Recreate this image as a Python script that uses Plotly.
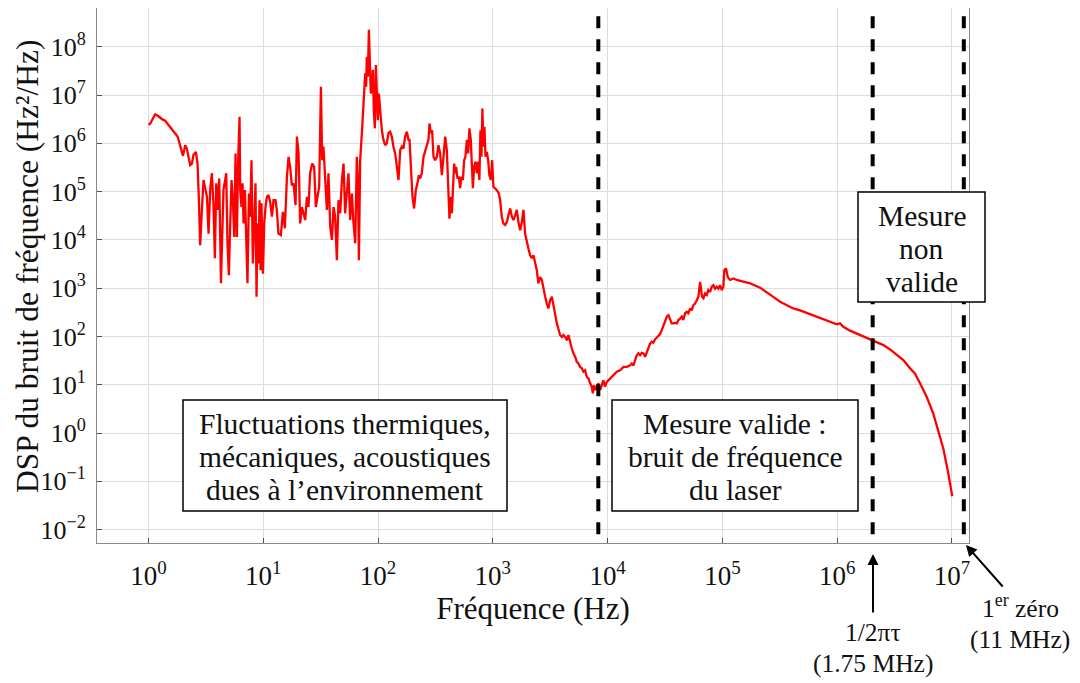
import plotly.graph_objects as go

# ---- data (decade exponents: log10 of Hz and of Hz^2/Hz) ----
freq_exp_low = [
    0.00, 0.015, 0.058, 0.087, 0.117, 0.145, 0.174, 0.204, 0.233, 0.253, 0.270, 0.291, 0.30, 0.32,
    0.334, 0.348, 0.363, 0.378, 0.392, 0.413, 0.427, 0.439, 0.450, 0.465, 0.479, 0.497, 0.509, 0.523,
    0.537, 0.552, 0.566, 0.578, 0.590, 0.601, 0.616, 0.631, 0.642, 0.653, 0.668, 0.677, 0.688, 0.700,
    0.712, 0.723, 0.735, 0.747, 0.758, 0.770, 0.781, 0.793, 0.799, 0.81, 0.819, 0.828, 0.840, 0.851,
    0.862, 0.875, 0.886, 0.897, 0.909, 0.921, 0.932, 0.941, 0.949, 0.958, 0.967, 0.976, 0.984, 0.997,
    1.008, 1.019, 1.031, 1.045, 1.060, 1.075, 1.089, 1.106, 1.118, 1.132,
    1.153, 1.171, 1.188, 1.206, 1.220, 1.234, 1.249, 1.263, 1.281, 1.293, 1.307, 1.321, 1.336, 1.350,
    1.365, 1.380, 1.394, 1.408, 1.426, 1.443, 1.458, 1.472, 1.487, 1.502, 1.513, 1.524, 1.539, 1.554,
    1.568, 1.583, 1.598, 1.612, 1.626, 1.641, 1.655, 1.670, 1.685, 1.699, 1.713, 1.728, 1.742, 1.757,
    1.772, 1.786, 1.801, 1.815, 1.824, 1.833, 1.844, 1.859, 1.873, 1.888, 1.896, 1.902, 1.911, 1.920,
    1.928, 1.937, 1.946, 1.955, 1.963, 1.972, 1.981, 1.990, 1.998, 2.007, 2.018, 2.033, 2.047, 2.062,
    2.076, 2.091, 2.105, 2.120, 2.134, 2.149, 2.164, 2.178, 2.193, 2.207, 2.221, 2.236, 2.251, 2.265,
]
psd_exp_low = [
    6.38, 6.41, 6.60, 6.56, 6.50, 6.47, 6.38, 6.29, 6.21, 6.14, 6.00, 5.84, 5.74, 5.96,
    5.89, 5.72, 5.55, 5.58, 5.76, 5.82, 5.58, 4.82, 3.89, 4.62, 5.24, 5.03, 4.89, 4.13,
    5.03, 5.38, 4.72, 3.62, 5.17, 4.62, 5.27, 3.10, 4.34, 5.03, 5.24, 5.38, 3.93, 3.27,
    4.34, 5.24, 4.82, 4.06, 5.79, 4.06, 5.65, 6.55, 5.03, 4.68, 5.17, 4.34, 5.03, 3.86,
    3.10, 4.96, 4.48, 5.65, 3.51, 4.34, 5.17, 2.82, 4.34, 3.51, 4.82, 3.37, 4.76, 3.30,
    4.34, 4.68, 4.89, 4.93, 4.79, 4.48, 4.82, 4.82, 4.62, 4.13,
    4.10, 4.58, 4.24, 5.31, 5.72, 5.51, 5.13, 5.17, 4.72, 6.14, 5.79, 4.34, 4.68, 4.55,
    4.41, 4.89, 4.68, 5.38, 5.58, 5.51, 4.68, 4.89, 5.10, 7.17, 5.65, 5.93, 5.31, 4.62,
    5.38, 4.27, 4.00, 4.68, 4.48, 3.58, 4.82, 4.55, 5.24, 5.58, 4.55, 5.03, 5.38, 4.41,
    4.96, 4.34, 3.93, 5.72, 5.24, 3.58, 5.65, 6.21, 6.96, 7.45, 7.17, 7.79, 7.38, 8.35,
    7.72, 7.03, 7.17, 7.52, 6.69, 6.31, 7.62, 7.17, 6.48, 7.03, 6.62, 6.27, 6.07, 5.96,
    6.00, 6.21, 6.24, 6.14, 5.93, 5.79, 5.51, 5.24, 5.86, 5.93, 5.89, 6.14, 6.24, 6.07,
]
freq_exp_mid = [
    2.274, 2.286, 2.300, 2.314, 2.329, 2.343, 2.355, 2.367, 2.381, 2.396, 2.410, 2.425, 2.439, 2.448,
    2.460, 2.471, 2.483, 2.497, 2.512, 2.526, 2.541, 2.556, 2.570, 2.585, 2.599, 2.613, 2.622, 2.634,
    2.643, 2.652, 2.663, 2.672, 2.680, 2.692, 2.704, 2.715, 2.727, 2.739, 2.750, 2.761, 2.774, 2.785,
    2.796, 2.808, 2.817, 2.826, 2.837, 2.848, 2.861, 2.872, 2.883, 2.892, 2.901, 2.909, 2.918, 2.927,
    2.936, 2.948, 2.959, 2.970, 2.983, 2.994, 3.005, 3.020, 3.035, 3.052, 3.064, 3.078, 3.092, 3.107,
    3.122, 3.136, 3.151, 3.166, 3.180, 3.194, 3.209, 3.223, 3.238, 3.253, 3.267, 3.281, 3.296, 3.310,
    3.325, 3.340, 3.354, 3.369, 3.383, 3.397,
    3.412, 3.427, 3.441, 3.456, 3.470, 3.484, 3.499, 3.514, 3.528, 3.543, 3.558, 3.571, 3.586, 3.601,
    3.615, 3.630, 3.645, 3.659, 3.674, 3.688, 3.702, 3.717, 3.732, 3.746, 3.760, 3.775, 3.789, 3.804,
    3.819, 3.833, 3.848, 3.862, 3.871, 3.882, 3.894, 3.906, 3.920, 3.935, 3.949, 3.963, 3.978, 3.993,
    4.007, 4.022, 4.051, 4.080, 4.109, 4.138, 4.167, 4.196,
]
psd_exp_mid = [
    6.07, 5.45, 4.89, 4.65, 5.03, 5.17, 5.34, 5.27, 5.38, 5.72, 5.86, 5.96, 6.07, 6.41,
    6.21, 6.27, 5.72, 5.65, 5.72, 5.96, 5.79, 5.34, 5.72, 6.14, 5.86, 4.82, 4.44, 4.89,
    4.55, 5.03, 5.58, 5.38, 5.51, 5.27, 5.31, 5.07, 5.31, 5.24, 5.65, 5.72, 6.07, 5.79,
    6.31, 6.07, 5.58, 5.07, 5.51, 5.62, 5.38, 5.62, 5.24, 6.27, 5.72, 6.72, 5.93, 6.34,
    5.72, 5.82, 5.65, 5.34, 5.24, 5.65, 5.10, 5.07, 5.03, 4.96, 4.82, 4.48, 4.34, 4.31,
    4.37, 4.51, 4.65, 4.48, 4.41, 4.51, 4.62, 4.37, 4.20, 4.37, 4.62, 4.13, 3.93, 3.82,
    3.68, 3.62, 3.68, 3.51, 3.37, 3.10,
    3.23, 3.17, 2.96, 2.82, 2.68, 2.58, 2.75, 2.82, 2.65, 2.41, 2.27, 2.16, 2.03, 1.99,
    2.03, 1.99, 1.92, 2.03, 1.85, 1.75, 1.65, 1.58, 1.47, 1.44, 1.37, 1.34, 1.27, 1.30,
    1.16, 1.13, 1.03, 0.96, 0.82, 0.99, 0.89, 0.96, 1.03, 0.89, 0.99, 1.09, 0.96, 1.06,
    1.09, 1.13, 1.20, 1.27, 1.30, 1.37, 1.37, 1.40,
]
freq_exp_high = [
    4.211, 4.225, 4.240, 4.254, 4.268, 4.283, 4.298, 4.312, 4.327, 4.341, 4.355, 4.370, 4.385, 4.399,
    4.414, 4.429, 4.443, 4.457, 4.472, 4.486, 4.501, 4.516, 4.530, 4.544, 4.559, 4.573, 4.588, 4.603,
    4.617, 4.632, 4.646, 4.660, 4.675, 4.690, 4.704, 4.719, 4.733, 4.747, 4.762, 4.777, 4.791, 4.806,
    4.814, 4.823, 4.835, 4.849, 4.864, 4.878, 4.893, 4.908, 4.922, 4.936, 4.951, 4.965, 4.980, 4.995,
    5.009, 5.017, 5.032, 5.047, 5.067, 5.096, 5.126, 5.154, 5.183, 5.212, 5.241,
    5.328, 5.387, 5.444, 5.503, 5.561, 5.618, 5.677, 5.735, 5.793, 5.851, 5.909, 5.967, 5.997, 6.025,
    6.054, 6.112, 6.171, 6.228, 6.287, 6.345, 6.403, 6.461, 6.519, 6.577, 6.635, 6.679, 6.722, 6.780,
    6.838, 6.882, 6.925, 6.969, 7.003,
]
psd_exp_high = [
    1.44, 1.40, 1.51, 1.61, 1.65, 1.61, 1.66, 1.65, 1.58, 1.68, 1.75, 1.85, 1.89, 1.87,
    1.94, 1.98, 2.03, 2.05, 2.13, 2.23, 2.34, 2.41, 2.44, 2.34, 2.27, 2.27, 2.28, 2.27,
    2.34, 2.37, 2.41, 2.34, 2.48, 2.51, 2.48, 2.58, 2.54, 2.65, 2.68, 2.75, 2.82, 3.13,
    2.92, 2.82, 2.79, 2.89, 2.86, 2.96, 2.92, 3.03, 3.06, 2.99, 3.03, 2.99, 3.06, 2.96,
    3.03, 3.37, 3.41, 3.23, 3.17, 3.20, 3.17, 3.15, 3.13, 3.11, 3.10,
    3.01, 2.92, 2.82, 2.72, 2.65, 2.58, 2.54, 2.49, 2.44, 2.39, 2.34, 2.28, 2.25, 2.27,
    2.20, 2.12, 2.06, 2.01, 1.94, 1.89, 1.82, 1.73, 1.61, 1.51, 1.34, 1.23, 1.03, 0.75,
    0.40, 0.06, -0.32, -0.84, -1.31,
]

marker_freqs_hz = [8300, 2.04e6, 1.27e7]      # vertical dashed markers
x_tick_exps = [0, 1, 2, 3, 4, 5, 6, 7]
y_tick_exps = [8, 7, 6, 5, 4, 3, 2, 1, 0, -1, -2]

freq_exp = freq_exp_low + freq_exp_mid + freq_exp_high
psd_exp = psd_exp_low + psd_exp_mid + psd_exp_high
freq_hz = [10 ** v for v in freq_exp]
psd = [10 ** v for v in psd_exp]


def sup_label(e):
    s = str(e).replace("-", "\u2212")
    return f"10<sup>{s}</sup>"


FONT = "Liberation Serif"

fig = go.Figure()
fig.add_trace(go.Scatter(x=freq_hz, y=psd, mode="lines",
                         line=dict(color="#ff0000", width=2.3), showlegend=False,
                         hoverinfo="skip"))
for f in marker_freqs_hz:
    fig.add_trace(go.Scatter(x=[f, f], y=[1e-4, 1e10], mode="lines",
                             line=dict(color="black", width=4, dash="12px,11px"),
                             showlegend=False, hoverinfo="skip"))

# page has an 8px body margin: figure is placed at (8, 8) in the window
OFF = 8
W, H = 1080 - OFF, 683 - OFF
PL, PR, PT, PB = 97, 969, 8, 543          # plot area in window pixels
L, R, T, B = PL - OFF, W - (PR - OFF), PT - OFF, H - (PB - OFF)
PW, PH = PR - PL, PB - PT


def px(xp):
    return (xp - PL) / PW


def py(yp):
    return (PB - yp) / PH


shapes = []
annotations = []
boxes = [
    ((183, 400, 507, 511), 345, [424, 457, 490],
     ["Fluctuations thermiques,", "mécaniques, acoustiques", "dues à l\u2019environnement"]),
    ((612, 400, 858, 511), 735, [424, 457, 490],
     ["Mesure valide :", "bruit de fréquence", "du laser"]),
    ((858, 192, 985, 302), 921.5, [216, 249, 282],
     ["Mesure", "non", "valide"]),
]
for (x0, y0, x1, y1), cx, ys, lines in boxes:
    shapes.append(dict(type="rect", xref="paper", yref="paper",
                       x0=px(x0), x1=px(x1), y0=py(y1), y1=py(y0),
                       fillcolor="white", line=dict(color="black", width=1.5), layer="above"))
    for yy, txt in zip(ys, lines):
        annotations.append(dict(xref="paper", yref="paper", x=px(cx), y=py(yy), text=txt,
                                showarrow=False, xanchor="center", yanchor="middle",
                                font=dict(family=FONT, size=29.5, color="#111")))

# labels below the axis
for cx, cy, txt in [(873, 632, "1/2\u03c0\u03c4"), (873, 663, "(1.75 MHz)"),
                    (1020, 606, "1<sup>er</sup> zéro"), (1020, 639, "(11 MHz)")]:
    annotations.append(dict(xref="paper", yref="paper", x=px(cx), y=py(cy), text=txt,
                            showarrow=False, xanchor="center", yanchor="middle",
                            font=dict(family=FONT, size=25.5, color="#111")))
# arrows
for tip, tail in [((873, 554), (873, 614)), ((966, 545), (1004, 588))]:
    annotations.append(dict(xref="paper", yref="paper", x=px(tip[0]), y=py(tip[1]),
                            ax=tail[0] - tip[0], ay=tail[1] - tip[1], text="",
                            showarrow=True, arrowhead=2, arrowsize=1.1, arrowwidth=2,
                            arrowcolor="black"))
# y axis title
annotations.append(dict(xref="paper", yref="paper", x=px(27), y=py(266),
                        text="DSP du bruit de fréquence (Hz\u00b2/Hz)", textangle=-90,
                        showarrow=False, xanchor="center", yanchor="middle",
                        font=dict(family=FONT, size=31.5, color="#111")))

fig.update_layout(
    width=W, height=H,
    margin=dict(l=L, r=R, t=T, b=B, autoexpand=False),
    paper_bgcolor="white", plot_bgcolor="white",
    font=dict(family=FONT, size=27, color="#111"),
    shapes=shapes, annotations=annotations,
    showlegend=False,
)
fig.update_xaxes(
    type="log", range=[-0.449, 7.149], automargin=False,
    tickvals=[10 ** e for e in x_tick_exps], ticktext=[sup_label(e) for e in x_tick_exps],
    ticks="inside", ticklen=5, tickcolor="#555", tickwidth=1,
    showgrid=True, gridcolor="#dcdcdc", gridwidth=1,
    showline=True, linecolor="#8a8a8a", linewidth=1, mirror=True,
    zeroline=False, ticklabelstandoff=9,
    tickfont=dict(family=FONT, size=27, color="#111"),
    title=dict(text="Fréquence (Hz)", font=dict(family=FONT, size=31, color="#111"), standoff=6),
)
fig.update_yaxes(
    type="log", range=[-2.278, 8.802], automargin=False,
    tickvals=[10 ** e for e in y_tick_exps], ticktext=[sup_label(e) for e in y_tick_exps],
    ticks="inside", ticklen=5, tickcolor="#555", tickwidth=1,
    showgrid=True, gridcolor="#dcdcdc", gridwidth=1,
    showline=True, linecolor="#8a8a8a", linewidth=1, mirror=True,
    zeroline=False, ticklabelstandoff=5,
    tickfont=dict(family=FONT, size=26, color="#111"),
)

fig.write_html("out.html")
